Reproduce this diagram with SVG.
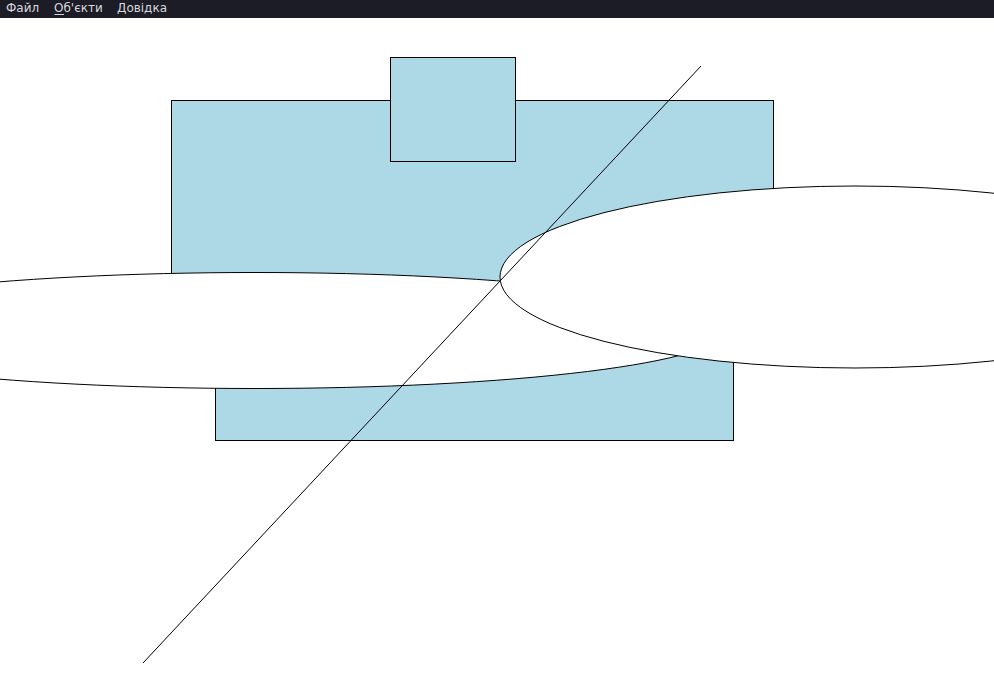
<svg xmlns="http://www.w3.org/2000/svg" width="994" height="694" viewBox="0 0 994 694">
  <style>
    .shape { fill: #add8e6; stroke: #000; stroke-width: 1; }
    .oval { fill: #fff; stroke: #000; stroke-width: 1; }
    .menu { font-family: "DejaVu Sans", "Noto Sans", sans-serif; font-size: 12px; fill: #d8d8dc; }
  </style>
  <rect x="0" y="0" width="994" height="694" fill="#fff"/>
  <g id="menubar">
    <rect x="0" y="0" width="994" height="18" fill="#1c1c27"/>
    <text class="menu" x="6" y="12">Файл</text>
    <text class="menu" x="54" y="12">Об'єкти</text>
    <line x1="54.5" y1="14.5" x2="64" y2="14.5" stroke="#d8d8dc" stroke-width="1"/>
    <text class="menu" x="117" y="12">Довідка</text>
  </g>
  <g id="rect-upper"><rect class="shape" x="171.5" y="100.5" width="602" height="210"/></g>
  <g id="rect-small"><rect class="shape" x="390.5" y="57.5" width="125" height="104"/></g>
  <g id="rect-lower"><rect class="shape" x="215.5" y="330.5" width="518" height="110"/></g>
  <g id="ellipse-left"><ellipse class="oval" cx="255" cy="330.5" rx="470" ry="58"/></g>
  <g id="ellipse-right"><ellipse class="oval" cx="855" cy="277" rx="355" ry="91"/></g>
  <g id="connectors">
    <line x1="701" y1="66" x2="143" y2="663" stroke="#000" stroke-width="1"/>
  </g>
</svg>
